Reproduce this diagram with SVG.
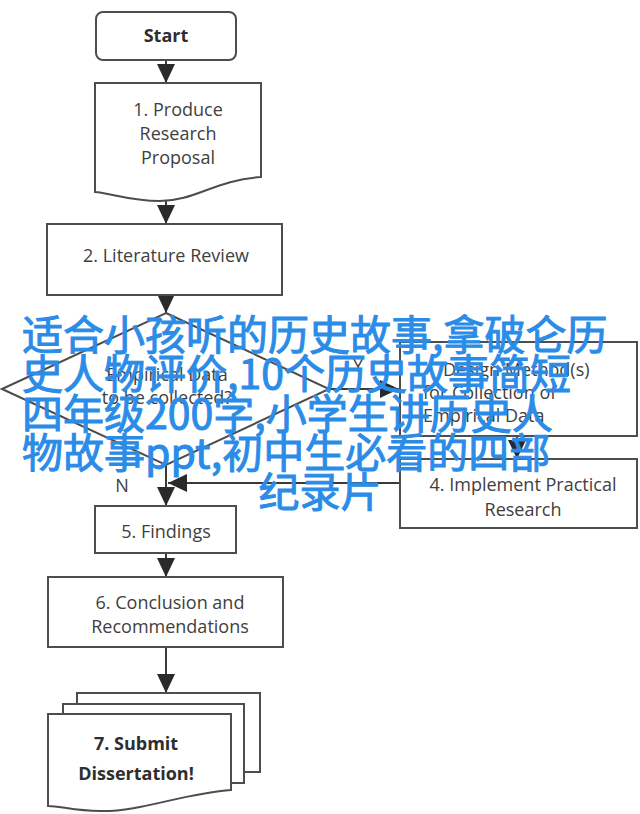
<svg xmlns="http://www.w3.org/2000/svg" width="640" height="814" viewBox="0 0 640 814">
<style>
.shape{fill:#fff;stroke:#4d4d4d;stroke-width:2}
.t{font-family:"Open Sans","Liberation Sans",sans-serif;font-size:18px;fill:#404040;text-anchor:middle}
.b{font-weight:bold;fill:#2e2e2e}
.l{text-anchor:start}
.conn{stroke:#3a3a3a;stroke-width:2;fill:none;marker-end:url(#ah)}
.ov{font-family:"Noto Sans CJK SC","Noto Sans",sans-serif;font-size:41px;fill:#2b8ce8;stroke:#2b8ce8;stroke-width:1}
</style>
<defs>
<marker id="ah" markerUnits="userSpaceOnUse" markerWidth="19" markerHeight="18" refX="19" refY="9" orient="auto">
<path d="M0,0 L19,9 L0,18 Z" fill="#2a2a2a"/>
</marker>
</defs>
<rect width="640" height="814" fill="#fff"/>
<g id="connectors">
<line class="conn" x1="166" y1="60" x2="166" y2="83"/>
<line class="conn" x1="166" y1="200" x2="166" y2="224"/>
<line class="conn" x1="166" y1="295" x2="166" y2="313"/>
<line class="conn" x1="329" y1="389" x2="399" y2="389"/>
<line class="conn" x1="517" y1="436" x2="517" y2="459"/>
<line class="conn" x1="400" y1="483" x2="168" y2="483"/>
<line class="conn" x1="166" y1="465" x2="166" y2="506"/>
<line class="conn" x1="166" y1="553" x2="166" y2="577"/>
<line class="conn" x1="166" y1="647" x2="166" y2="693"/>
<text class="t" x="358" y="372" font-size="17">Y</text>
<text class="t" x="122" y="492" font-size="17">N</text>
</g>
<g id="start">
<rect class="shape" x="96" y="12" width="140" height="48" rx="7"/>
<text class="t b" x="166" y="42" font-size="19">Start</text>
</g>
<g id="step1">
<path class="shape" d="M95,83 H261 V177 C215,180 195,201 160,201 C130,201 110,193 95,192 Z"/>
<text class="t" x="178" y="116">1. Produce</text>
<text class="t" x="178" y="140">Research</text>
<text class="t" x="178" y="164">Proposal</text>
</g>
<g id="step2">
<rect class="shape" x="47" y="224" width="235" height="71"/>
<text class="t" x="166" y="262">2. Literature Review</text>
</g>
<g id="decision">
<path class="shape" d="M166,313 L329,389 L166,465 L2,389 Z"/>
<text class="t" x="167" y="381">Empirical Data</text>
<text class="t" x="167" y="404">to be collected?</text>
</g>
<g id="step3">
<rect class="shape" x="400" y="342" width="237" height="94"/>
<text class="t l" x="443" y="376">Design Method(s)</text>
<text class="t l" x="423" y="399">for Collection of</text>
<text class="t l" x="423" y="422">Empirical Data</text>
</g>
<g id="step4">
<rect class="shape" x="400" y="459" width="237" height="69"/>
<text class="t" x="523" y="491">4. Implement Practical</text>
<text class="t" x="523" y="516">Research</text>
</g>
<g id="step5">
<rect class="shape" x="95" y="506" width="141" height="47"/>
<text class="t" x="166" y="538">5. Findings</text>
</g>
<g id="step6">
<rect class="shape" x="48" y="577" width="235" height="70"/>
<text class="t" x="170" y="609">6. Conclusion and</text>
<text class="t" x="170" y="633">Recommendations</text>
</g>
<g id="step7">
<rect class="shape" x="77" y="693" width="183" height="79"/>
<rect class="shape" x="63" y="704" width="181" height="79"/>
<path class="shape" d="M48,714 H231 V790 C185,793 140,812 100,811 C75,811 60,806 48,806 Z"/>
<text class="t b" x="136" y="750" font-size="20">7. Submit</text>
<text class="t b" x="136" y="780" font-size="20">Dissertation!</text>
</g>
<g id="overlay">
<text class="ov" x="22" y="350">适合小孩听的历史故事,拿破仑历</text>
<text class="ov" x="22" y="389">史人物评价,10个历史故事简短</text>
<text class="ov" x="22" y="429">四年级200字,小学生讲历史人</text>
<text class="ov" x="22" y="468">物故事ppt,初中生必看的四部</text>
<text class="ov" x="320" y="507" text-anchor="middle">纪录片</text>
</g>
</svg>
